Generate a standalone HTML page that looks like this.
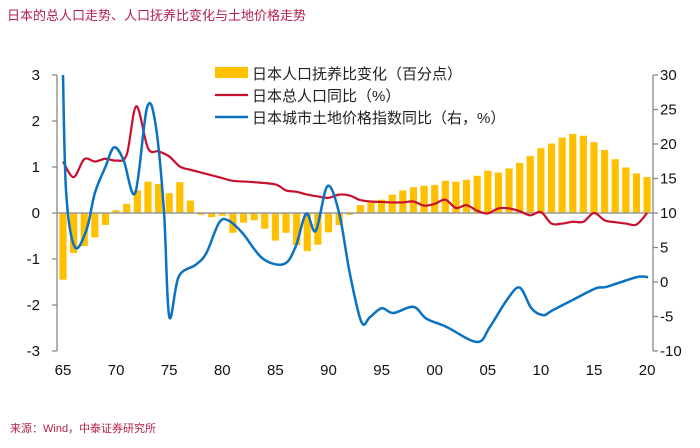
<!DOCTYPE html>
<html><head><meta charset="utf-8"><style>
body{margin:0;background:#fff;width:700px;height:443px;overflow:hidden;font-family:"Liberation Sans","Noto Sans CJK SC",sans-serif}
</style></head><body>
<svg width="700" height="443" xmlns="http://www.w3.org/2000/svg" id="c" font-family="Liberation Sans, Noto Sans CJK SC, sans-serif">
<text x="7" y="20" font-size="13" fill="#b5204a">日本的总人口走势、人口抚养比变化与土地价格走势</text>
<text x="10" y="432" font-size="11" fill="#b5204a">来源：Wind，中泰证券研究所</text>
<g id="bars"></g>
<line x1="57" y1="213" x2="653" y2="213" stroke="#999" stroke-width="1.5"/>
<path id="red" fill="none" stroke="#c8102e" stroke-width="2.2"/>
<path id="blue" fill="none" stroke="#0a72c1" stroke-width="2.5"/>
<g id="axes" stroke="#888" stroke-width="1.3" fill="none"></g>
<g id="labels" font-size="15" fill="#111"></g>
<g font-size="15" fill="#222">
<rect x="215" y="67" width="33" height="11" fill="#ffc000"/>
<text x="252" y="79">日本人口抚养比变化（百分点）</text>
<line x1="215" y1="95" x2="248" y2="95" stroke="#c8102e" stroke-width="2.2"/>
<text x="252" y="101">日本总人口同比（%）</text>
<line x1="215" y1="117" x2="248" y2="117" stroke="#0a72c1" stroke-width="2.5"/>
<text x="252" y="123">日本城市土地价格指数同比（右，%）</text>
</g>
</svg>
<script>
const barYears=[];for(let y=1965;y<=2020;y++)barYears.push(y);
const barValues=[-1.45,-0.87,-0.72,-0.53,-0.26,0.06,0.2,0.49,0.68,0.63,0.43,0.67,0.27,-0.04,-0.09,-0.06,-0.43,-0.21,-0.16,-0.34,-0.6,-0.43,-0.7,-0.83,-0.69,-0.42,-0.26,-0.04,0.17,0.23,0.29,0.4,0.49,0.56,0.59,0.61,0.7,0.68,0.72,0.81,0.92,0.88,0.97,1.09,1.24,1.41,1.51,1.64,1.72,1.68,1.54,1.37,1.17,0.99,0.86,0.78];
const redYears=[1965,1966,1967,1968,1969,1970,1971,1971.9,1973,1974,1975,1976,1977,1978,1980,1981,1983,1985,1986,1987,1988,1989,1990,1991,1992,1993,1994,1995,1996,1997,1998,1999,2000,2001,2002,2003,2004,2005,2006,2007,2008,2009,2010,2011,2012,2013,2014,2015,2016,2017,2018,2019,2020];
const redValues=[1.12,0.78,1.17,1.12,1.18,1.14,1.27,2.32,1.41,1.34,1.23,1.01,0.94,0.88,0.76,0.70,0.67,0.62,0.49,0.46,0.40,0.36,0.33,0.40,0.38,0.28,0.25,0.24,0.23,0.23,0.25,0.16,0.2,0.29,0.11,0.17,0.05,-0.01,0.1,0.1,0.04,-0.05,0.02,-0.23,-0.23,-0.19,-0.19,0.0,-0.16,-0.2,-0.23,-0.25,0.0];
const blueYears=[1965,1965.3,1966.1,1967.2,1968,1969,1969.8,1970.7,1971.8,1972.9,1973.7,1974.5,1975,1975.9,1977.5,1978.5,1979.7,1980.6,1981.9,1983.8,1985.8,1986.9,1987.9,1988.8,1989.9,1991,1992,1993.1,1993.9,1995,1996.1,1998,1999.2,2001.1,2004,2005.2,2006.8,2008,2009.1,2010.2,2011.1,2013,2015.2,2016.2,2019,2020.1];
const blueValues=[30,12.9,5.1,7.5,12.9,16.7,19.5,17.7,12.9,25.2,23,10.4,-5.0,0.8,2.5,4.2,8.6,8.9,7.1,3.4,2.6,5.1,9.9,7.4,13.9,10,1.3,-5.8,-5.1,-3.8,-4.5,-3.6,-5.3,-6.5,-8.7,-6.5,-2.6,-0.8,-3.8,-4.8,-4.1,-2.6,-0.9,-0.7,0.7,0.7];
const leftTicks=[3,2,1,0,-1,-2,-3];
const rightTicks=[30,25,20,15,10,5,0,-5,-10];
const xTickYears=[1965,1970,1975,1980,1985,1990,1995,2000,2005,2010,2015,2020];
const xTickLabels=["65","70","75","80","85","90","95","00","05","10","15","20"];
const X=y=>63+(y-1965)*10.62;
const YL=v=>213-v*46;
const YR=v=>213-(v-10)*6.9;
const NS='http://www.w3.org/2000/svg';
function mk(t,a,p){const e=document.createElementNS(NS,t);for(const k in a)e.setAttribute(k,a[k]);p.appendChild(e);return e;}
const bars=document.getElementById('bars');
barYears.forEach((yr,i)=>{const v=barValues[i];const y0=YL(0),y1=YL(v);
const r=mk('rect',{x:X(yr)-3.6,y:Math.min(y0,y1),width:7.2,height:Math.abs(y1-y0),fill:'#ffc000'},bars);

});
function smooth(pts){let d='M'+pts[0][0]+','+pts[0][1];for(let i=0;i<pts.length-1;i++){const p0=pts[Math.max(0,i-1)],p1=pts[i],p2=pts[i+1],p3=pts[Math.min(pts.length-1,i+2)];
const c1=[p1[0]+(p2[0]-p0[0])/6,p1[1]+(p2[1]-p0[1])/6],c2=[p2[0]-(p3[0]-p1[0])/6,p2[1]-(p3[1]-p1[1])/6];
d+=` C${c1[0]},${c1[1]} ${c2[0]},${c2[1]} ${p2[0]},${p2[1]}`;}return d;}
document.getElementById('red').setAttribute('d',smooth(redYears.map((y,i)=>[X(y),YL(redValues[i])])));
document.getElementById('blue').setAttribute('d',smooth(blueYears.map((y,i)=>[X(y),YR(blueValues[i])])));
const ax=document.getElementById('axes'),lb=document.getElementById('labels');
const la=mk('line',{x1:57,y1:YL(3),x2:57,y2:YL(-3)},ax);


const ra=mk('line',{x1:653,y1:YR(30),x2:653,y2:YR(-10)},ax);


leftTicks.forEach(v=>{mk('line',{x1:52,y1:YL(v),x2:57,y2:YL(v)},ax);
const t=mk('text',{x:40,y:YL(v)+5,'text-anchor':'end'},lb);t.textContent=v;

});
rightTicks.forEach(v=>{mk('line',{x1:653,y1:YR(v),x2:658,y2:YR(v)},ax);
const t=mk('text',{x:660,y:YR(v)+5},lb);t.textContent=v;

});
xTickYears.forEach((y,i)=>{const t=mk('text',{x:X(y),y:375,'text-anchor':'middle'},lb);t.textContent=xTickLabels[i];

});
</script>
</body></html>
